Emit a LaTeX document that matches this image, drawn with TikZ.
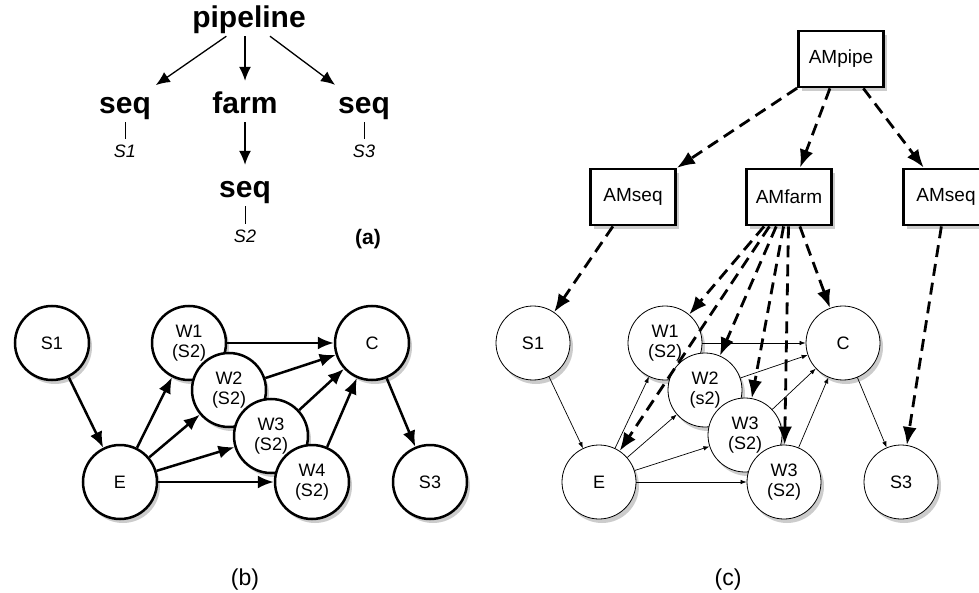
\documentclass[tikz,border=0pt]{standalone}
\usepackage{fontspec}
\setmainfont{Liberation Sans}
\usetikzlibrary{arrows.meta, shadows}

\begin{document}
\begin{tikzpicture}[x=1pt, y=-1pt,
  word/.style={font=\fontsize{30}{36}\selectfont\bfseries, inner sep=2pt,
    text height=21pt, text depth=6pt, anchor=base},
  leaf/.style={font=\fontsize{18}{20}\selectfont\itshape, inner sep=1pt,
    text height=12pt, text depth=0pt, anchor=base},
  arr/.style={-{Latex[length=14pt,width=12pt]}, line width=1.3pt, shorten >=10pt},
  stem/.style={line width=0.8pt, shorten >=6pt},
  soft/.style={drop shadow={opacity=0.4, shadow xshift=3pt, shadow yshift=-4pt}},
  bnode/.style={circle, draw, fill=white, line width=2.5pt, minimum size=74pt,
    inner sep=0pt, align=center, font=\fontsize{18}{20}\selectfont, soft},
  cnode/.style={bnode, line width=0.8pt},
  am/.style={rectangle, draw, fill=white, line width=2.8pt, minimum width=85pt,
    minimum height=56pt, font=\fontsize{19}{22}\selectfont, soft},
  barr/.style={-{Latex[length=16pt,width=13pt]}, line width=2.5pt},
  carr/.style={-{Latex[length=6pt,width=4.5pt]}, line width=0.7pt},
  darr/.style={-{Latex[length=18pt,width=14pt]}, line width=2.8pt,
    dash pattern=on 12pt off 7pt},
  sublabel/.style={font=\fontsize{23}{26}\selectfont, anchor=base}]
  \useasboundingbox (0,0) rectangle (979,593);

  % (a) skeleton tree
  \node[word] (pipe) at (249,28) {pipeline};
  \node[word] (seqa) at (125,114) {seq};
  \node[word] (farm) at (245,114) {farm};
  \node[word] (seqc) at (364,114) {seq};
  \node[word] (seqb) at (245,198) {seq};
  \node[leaf] (sa) at (125,158) {S1};
  \node[leaf] (sc) at (364,158) {S3};
  \node[leaf] (sb) at (245,243) {S2};
  \node[font=\fontsize{21}{24}\selectfont\bfseries, anchor=base] (lbla) at (368,245) {(a)};
  \draw[arr] (pipe) -- (seqa);
  \draw[arr] (pipe.south -| farm) -- (farm);
  \draw[arr] (pipe) -- (seqc);
  \draw[arr] (farm) -- (seqb);
  \draw[stem] (seqa) -- (sa);
  \draw[stem] (seqc) -- (sc);
  \draw[stem] (seqb) -- (sb);

  % (b) process network
  \node[bnode] (s1) at (52,343) {S1};
  \node[bnode] (e) at (120,482) {E};
  \node[bnode] (w1) at (189,343) {W1\\(S2)};
  \node[bnode] (w2) at (229,390) {W2\\(S2)};
  \node[bnode] (w3) at (271,436) {W3\\(S2)};
  \node[bnode] (w4) at (312,482) {W4\\(S2)};
  \node[bnode] (c) at (372,343) {C};
  \node[bnode] (s3) at (430,482) {S3};
  \draw[barr] (s1) -- (e);
  \foreach \i in {1,...,4} {
    \draw[barr] (e) -- (w\i);
    \draw[barr] (w\i) -- (c);
  }
  \draw[barr] (c) -- (s3);
  \node[sublabel] (lblb) at (245,585) {(b)};

  % (c) network with its managers
  \node[am] (ampipe) at (841,59) {AMpipe};
  \node[am] (amseqa) at (633,197) {AMseq};
  \node[am] (amfarm) at (789,197) {AMfarm};
  \node[am] (amseqb) at (946,197) {AMseq};

  \node[cnode] (cs1) at (533,343) {S1};
  \node[cnode] (ce) at (599,482) {E};
  \node[cnode] (cw1) at (665,343) {W1\\(S2)};
  \node[cnode] (cw2) at (705,390) {W2\\(s2)};
  \node[cnode] (cw3) at (745,435) {W3\\(S2)};
  \node[cnode] (cw4) at (784,482) {W3\\(S2)};
  \node[cnode] (cc) at (843,343) {C};
  \node[cnode] (cs3) at (901,482) {S3};
  \draw[carr] (cs1) -- (ce);
  \foreach \i in {1,...,4} {
    \draw[carr] (ce) -- (cw\i);
    \draw[carr] (cw\i) -- (cc);
  }
  \draw[carr] (cc) -- (cs3);

  \draw[darr] (ampipe) -- (amseqa);
  \draw[darr] (ampipe) -- (amfarm);
  \draw[darr] (ampipe) -- (amseqb);
  \draw[darr] (amseqa) -- (cs1);
  \draw[darr] (amseqb) -- (cs3);
  \foreach \t in {ce,cw1,cw2,cw3,cw4,cc}
    \draw[darr] (amfarm) -- (\t);
  \node[sublabel] (lblc) at (728,585) {(c)};
\end{tikzpicture}
\end{document}
